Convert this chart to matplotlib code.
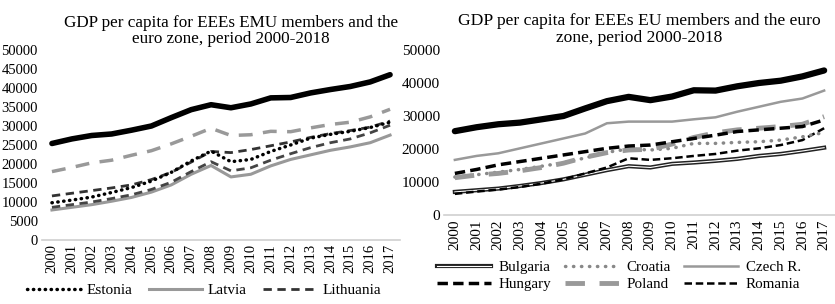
import matplotlib
matplotlib.use('Agg')
import matplotlib.pyplot as plt
import matplotlib.patheffects as pe

plt.rcParams['font.family'] = ['Liberation Serif', 'DejaVu Serif']

years = [str(y) for y in range(2000, 2018)]

# left chart: EMU members
euro_zone_l = [25400, 26600, 27500, 27900, 28900, 30000, 32200, 34300, 35600, 34800,
               35800, 37400, 37500, 38700, 39600, 40400, 41600, 43500]
slovenia = [18000, 19100, 20300, 21000, 22300, 23500, 25300, 27300, 29400, 27500,
            27700, 28600, 28500, 29500, 30400, 31000, 32400, 34400]
estonia = [9800, 10500, 11300, 12500, 13800, 15500, 17800, 20800, 23400, 20600,
           21200, 23300, 25000, 26800, 27800, 28600, 29600, 31000]
latvia = [7900, 8600, 9300, 10200, 11200, 12600, 14500, 17300, 19600, 16600,
          17300, 19500, 21200, 22400, 23600, 24500, 25600, 27600]
lithuania = [11600, 12300, 13000, 13700, 14500, 15900, 17800, 20500, 23300, 23000,
             23800, 24800, 25800, 27000, 28000, 28800, 29700, 31300]
slovakia = [8600, 9300, 10000, 10900, 11900, 13300, 15200, 18000, 20600, 18200,
            19000, 21000, 22700, 24300, 25600, 26600, 28200, 30200]

# right chart: EU members
euro_zone_r = [25400, 26600, 27500, 28000, 29000, 30000, 32300, 34500, 35800, 34800,
               35900, 37800, 37700, 39000, 40000, 40700, 42000, 43800]
bulgaria = [7000, 7500, 8000, 8800, 9700, 10800, 12200, 13600, 14800, 14400,
            15500, 15900, 16400, 17000, 17900, 18500, 19400, 20400]
croatia = [11500, 12200, 13000, 13800, 14800, 15800, 17300, 19000, 20000, 19700,
           20200, 21700, 21700, 22000, 22200, 22700, 23700, 25000]
czech = [16700, 17900, 18700, 20200, 21700, 23200, 24700, 27800, 28300, 28300,
         28300, 29000, 29600, 31300, 32800, 34300, 35300, 37700]
hungary = [12600, 13800, 15200, 16200, 17200, 18200, 19200, 20200, 20900, 21200,
           22200, 23200, 24200, 25300, 25800, 26300, 26800, 28800]
poland = [11300, 12100, 12600, 13400, 14400, 15700, 17500, 18900, 19700, 19900,
          21500, 23500, 24900, 25800, 26300, 26800, 27500, 29800]
romania = [6400, 7100, 7700, 8500, 9500, 10800, 12600, 14400, 17200, 16700,
           17200, 17900, 18500, 19500, 20200, 21200, 22700, 26300]

W, H = 835, 304
fig = plt.figure(figsize=(W / 100, H / 100), dpi=100)


def px_axes(x0, x1, ybot, ytop):
    return fig.add_axes([x0 / W, (H - ybot) / H, (x1 - x0) / W, (ybot - ytop) / H])


def style(ax, ymax, step, fs):
    ax.set_xlim(-0.5, len(years) - 0.5)
    ax.set_ylim(0, ymax)
    ax.set_yticks(range(0, ymax + 1, step))
    ax.set_xticks(range(len(years)))
    ax.set_xticklabels(years, rotation=90, fontsize=fs)
    ax.tick_params(axis='both', length=0, labelsize=fs, pad=3)
    for s in ['top', 'right', 'left']:
        ax.spines[s].set_visible(False)
    ax.spines['bottom'].set_color('#d0d0d0')
    ax.spines['bottom'].set_linewidth(1.2)


x = range(len(years))

# ---- left chart
ax1 = px_axes(42, 400, 240, 50)
style(ax1, 50000, 5000, 10.5)
ax1.plot(x, euro_zone_l, color='black', lw=4, solid_capstyle='round')
ax1.plot(x, slovenia, color='#999999', lw=2.5, dashes=(4, 3))
ax1.plot(x, latvia, color='#999999', lw=2.2, label='Latvia')
ax1.plot(x, slovakia, color='#444444', lw=2, dashes=(3, 2))
ax1.plot(x, lithuania, color='#333333', lw=2, dashes=(3, 2), label='Lithuania')
ax1.plot(x, estonia, color='black', lw=2.5, dashes=(0.1, 1.6), dash_capstyle='round',
         label='Estonia')
ax1.set_title('GDP per capita for EEEs EMU members and the\neuro zone, period 2000-2018',
              fontsize=12.3, pad=5, linespacing=1.0, x=0.5 + 10 / 358)
h, l = ax1.get_legend_handles_labels()
order = [l.index('Estonia'), l.index('Latvia'), l.index('Lithuania')]
ax1.legend([h[i] for i in order], [l[i] for i in order], ncol=3, frameon=False,
           loc='center', bbox_to_anchor=(204 / W, 14 / H), bbox_transform=fig.transFigure,
           fontsize=11, handlelength=3.5, columnspacing=1.1, handletextpad=0.35)

# ---- right chart
ax2 = px_axes(444, 835, 215, 50)
style(ax2, 50000, 10000, 11)
ax2.plot(x, euro_zone_r, color='black', lw=4.5, solid_capstyle='round')
ax2.plot(x, czech, color='#999999', lw=1.8, label='Czech R.')
ax2.plot(x, bulgaria, color='white', lw=0.8, label='Bulgaria',
         path_effects=[pe.Stroke(linewidth=3, foreground='#222222'), pe.Normal()])
ax2.plot(x, romania, color='black', lw=1.8, dashes=(3, 1.5), label='Romania')
ax2.plot(x, croatia, color='#888888', lw=2.5, dashes=(0.1, 2.2), dash_capstyle='round',
         label='Croatia')
ax2.plot(x, poland, color='#999999', lw=3.5, dashes=(4, 3), label='Poland')
ax2.plot(x, hungary, color='black', lw=2.5, dashes=(3, 1.5), label='Hungary')
ax2.set_title('GDP per capita for EEEs EU members and the euro\nzone, period 2000-2018',
              fontsize=12.6, pad=6, linespacing=1.05)
h, l = ax2.get_legend_handles_labels()
names = ['Bulgaria', 'Hungary', 'Croatia', 'Poland', 'Czech R.', 'Romania']
ax2.legend([h[l.index(n)] for n in names], names, ncol=3, frameon=False,
           loc='center', bbox_to_anchor=(619 / W, 28 / H), bbox_transform=fig.transFigure,
           fontsize=10.8, handlelength=3.6, columnspacing=0.9, handletextpad=0.5,
           labelspacing=0.25)

fig.savefig('out.png', dpi=100)
